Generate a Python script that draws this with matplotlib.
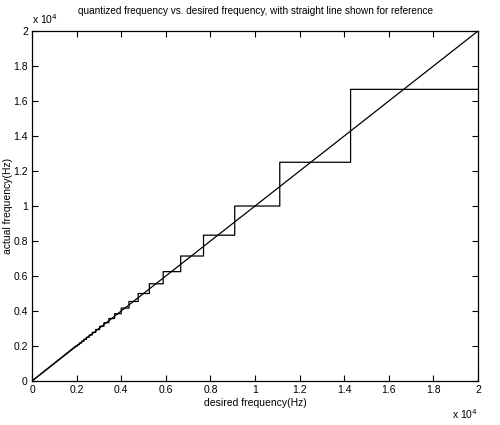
import numpy as np
import matplotlib
matplotlib.use("Agg")
import matplotlib.pyplot as plt

# left edge of each quantized level (desired frequency, Hz)
breaks = [1961, 2041, 2128, 2222, 2326, 2439, 2564, 2703, 2857, 3030, 3226,
          3448, 3704, 4000, 4348, 4762, 5263, 5882, 6667, 7692, 9091, 11111,
          14286]
# quantized (actual) frequency for each level, Hz
levels = [2000, 2083, 2174, 2273, 2381, 2500, 2632, 2778, 2941, 3125, 3333,
          3571, 3846, 4167, 4545, 5000, 5556, 6250, 7143, 8333, 10000, 12500,
          16667]
ref_line = [0, 20000]

plt.rcParams['font.family'] = ['Liberation Sans', 'DejaVu Sans']

fig = plt.figure(figsize=(5, 4.25), dpi=100)
ax = fig.add_axes([0.064, 0.1035, 0.892, 0.8235])

# staircase: start at origin, then flat runs between the break points
ends = breaks[1:] + [20000]
sx, sy = [0], [0]
for b, e, lv in zip(breaks, ends, levels):
    sx += [b, e]
    sy += [lv, lv]
ax.plot(sx, sy, color='black', lw=0.9)
ax.plot(ref_line, ref_line, color='black', lw=0.9)

ax.set_xlim(0, 20000)
ax.set_ylim(0, 20000)
ticks = np.arange(0, 20001, 2000)
labs = ['0', '0.2', '0.4', '0.6', '0.8', '1', '1.2', '1.4', '1.6', '1.8', '2']
ax.set_xticks(ticks)
ax.set_yticks(ticks)
ax.set_xticklabels(labs)
ax.set_yticklabels(labs)
ax.tick_params(direction='in', length=4, width=0.8, top=True, right=True,
               labelsize=7.5, pad=3)
for s in ax.spines.values():
    s.set_linewidth(0.9)

ax.set_title('quantized frequency vs. desired frequency, with straight line shown for reference',
             fontsize=7.2, pad=12)
ax.set_xlabel('desired frequency(Hz)', fontsize=7.5, labelpad=2)
ax.set_ylabel('actual frequency(Hz)', fontsize=7.5, labelpad=0)

ax.text(0.0, 1.015, r'x 10$^4$', transform=ax.transAxes, fontsize=7.5,
        ha='left', va='bottom')
ax.text(1.0, -0.075, r'x 10$^4$', transform=ax.transAxes, fontsize=7.5,
        ha='right', va='top')

fig.savefig('out.png', dpi=100)
